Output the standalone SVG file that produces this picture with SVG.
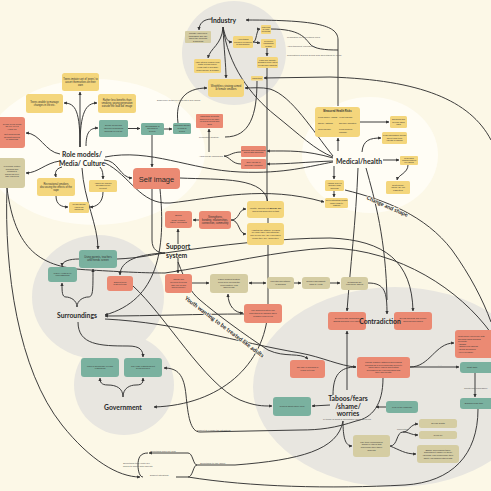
<svg xmlns="http://www.w3.org/2000/svg" width="491" height="491" viewBox="0 0 491 491">
<defs>
<marker id="a" viewBox="0 0 10 10" refX="9" refY="5" markerWidth="3.4" markerHeight="3.4" orient="auto-start-reverse"><path d="M0,0 L10,5 L0,10 z" fill="#333"/></marker>
</defs>
<style>
.e{fill:none;stroke:#333;stroke-width:0.95}
.ea{marker-end:url(#a)}
.eb{marker-start:url(#a);marker-end:url(#a)}
.y{fill:#f4d67c}
.r{fill:#eb8a73}
.g{fill:#7ab19f}
.o{fill:#d5cda3}
.t{font-family:"Liberation Sans",Arial,sans-serif;font-size:2.6px;fill:#333;text-anchor:middle}
.t2{font-family:"Liberation Sans",Arial,sans-serif;font-size:2.2px;fill:#333;text-anchor:middle}
.s{font-family:"Liberation Sans",Arial,sans-serif;font-size:2.4px;fill:#555}
.L{font-family:Lato,"Liberation Sans",sans-serif;font-weight:bold;font-size:6.8px;fill:#2a2a2a;text-anchor:middle}
.R{font-family:Lato,"Liberation Sans",sans-serif;font-weight:bold;fill:#2a2a2a;text-anchor:middle;paint-order:stroke;stroke:#fcf8ea;stroke-width:1.4px}
</style>
<g id="background">
<rect width="491" height="491" fill="#fcf8e7"/>
<ellipse cx="95" cy="152" rx="110" ry="73" fill="#fffdf5"/>
<ellipse cx="370" cy="155" rx="68" ry="58" fill="#fffdf5"/>
<circle cx="234" cy="53" r="52" fill="#e8e6e0"/>
<ellipse cx="98" cy="297" rx="66" ry="62" fill="#e8e6e0"/>
<circle cx="124" cy="385" r="50" fill="#e8e6e0"/>
<ellipse cx="395" cy="387" rx="142" ry="100" fill="#e8e6e0"/>
</g>
<g id="connectors">
<path class="e ea" d="M80,147 L80,92"/>
<path class="e ea" d="M80,147 C80,112 76,103 64,103"/>
<path class="e ea" d="M80,147 C80,112 86,103 97,103"/>
<path class="e ea" d="M60,154 C45,152 40,133 26,133"/>
<path class="e ea" d="M86,146 C86,132 90,128 98,128"/>
<path class="e ea" d="M128,128.5 L140,128.5"/>
<path class="e ea" d="M164,129 L172,129"/>
<path class="e ea" d="M152,135 L152,167"/>
<path class="e ea" d="M60,161 C45,163 38,173 26,173"/>
<path class="e ea" d="M104,160 C118,160 120,178 132,178"/>
<path class="e ea" d="M82,168 C84,200 98,225 98,249"/>
<path class="e ea" d="M62,167 C55,169 55,173 56,177"/>
<path class="e ea" d="M100,167 C103,170 103,175 103,179"/>
<path class="e ea" d="M56,196 C56,205 62,207 68,207"/>
<path class="e ea" d="M103,192 C103,203 96,207 90,207"/>
<path class="e ea" d="M178,123 C175,100 185,88 207,88"/>
<path class="e ea" d="M105,163 C130,175 140,205 170,203 C215,198 265,185 324,202"/>
<path class="e" d="M105,157 C150,148 190,170 240,172 C285,174 310,166 333,162"/>
<path class="e ea" d="M212,19 C203,19 199,24 199,30"/>
<path class="e ea" d="M223,27 C226,40 228,42 232,42"/>
<path class="e ea" d="M223,27 C222,45 210,48 208,58"/>
<path class="e ea" d="M223,27 C224,50 226,65 226,78"/>
<path class="e" d="M223,27 C228,65 250,95 275,115 C300,135 315,150 333,157"/>
<path class="e ea" d="M253,42 C257,42 256,29 260,29"/>
<path class="e ea" d="M253,42 L260,43"/>
<path class="e ea" d="M267,48 L267,56"/>
<path class="e" d="M267,68 L267,205"/>
<path class="e ea" d="M491,140 C470,100 420,80 330,77 L264,78"/>
<path class="e ea" d="M338,106 L338,40 C338,26 320,20 246,20"/>
<path class="e" d="M271,29 C300,29 305,38 310,44 C314,49 325,50 338,50"/>
<path class="e ea" d="M333,156 C312,130 292,96 270,89 C262,87 252,88 245,88"/>
<path class="e" d="M257,81 C257,115 250,137 225,137"/>
<path class="e" d="M241,152 C232,152 230,156 224,156"/>
<path class="e" d="M241,164 C232,164 230,157 224,156"/>
<path class="e ea" d="M209,152 L209,129"/>
<path class="e ea" d="M333,158 C305,150 290,151 267,151"/>
<path class="e ea" d="M333,161 C305,162 290,164 267,164"/>
<path class="e ea" d="M360,122 L389,122"/>
<path class="e ea" d="M362,152 C363,140 370,138 381,138"/>
<path class="e ea" d="M338,151 L338,138"/>
<path class="e ea" d="M383,160 L399,160"/>
<path class="e ea" d="M408,165 C408,173 398,175 397,180"/>
<path class="e ea" d="M334,166 L334,179"/>
<path class="e ea" d="M334,191 L334,197"/>
<path class="e" d="M345,190 C385,200 425,215 452,250 C470,275 483,300 491,322"/>
<path class="e ea" d="M358,168 C356,220 350,270 347,311"/>
<path class="e" d="M366,168 C375,200 386,240 387,300"/>
<path class="e ea" d="M368,283 C385,283 387,292 387,314"/>
<path class="e ea" d="M117,259 C140,258 150,255 165,253 C220,245 280,238 330,238 C385,240 412,262 413,311"/>
<path class="e" d="M7,188 C15,250 40,268 90,270 C125,272 145,273 165,273 C220,265 280,250 330,248 C400,250 460,290 491,333"/>
<path class="e ea" d="M7,188 C4,270 18,370 62,425 C90,460 118,477 140,477"/>
<path class="e" d="M152,189 L152,240 C152,250 158,253 165,253"/>
<path class="e ea" d="M165,253 C140,254 120,260 120,275"/>
<path class="e ea" d="M180,178 C220,180 268,176 268,205 L268,310 C265,365 220,405 154,407"/>
<path class="e ea" d="M160,189 C166,250 158,300 105,315"/>
<path class="e ea" d="M244,314 C200,314 150,316 105,316"/>
<path class="e ea" d="M77,307 C77,300 70,297 66,297 C62,297 62,292 62,283"/>
<path class="e ea" d="M77,307 C77,300 84,297 88,297 C93,297 93,292 93,269"/>
<path class="e ea" d="M79,259 C70,259 62,261 62,266"/>
<path class="e ea" d="M78,322 C78,345 100,346 128,346 C140,346 143,350 143,357"/>
<path class="e ea" d="M123,397 C123,388 116,385 108,385 C101,385 100,382 100,378"/>
<path class="e ea" d="M123,397 C123,388 130,385 136,385 C143,385 143,382 143,378"/>
<path class="e ea" d="M178,244 L178,229"/>
<path class="e ea" d="M178,258 L178,273"/>
<path class="e ea" d="M199,220 L193,220"/>
<path class="e ea" d="M231,220 C240,220 238,209 246,209"/>
<path class="e ea" d="M231,220 C240,220 238,234 246,234"/>
<path class="e ea" d="M192,283 L209,283"/>
<path class="e eb" d="M249,283 L266,283"/>
<path class="e ea" d="M294,283 L301,283"/>
<path class="e ea" d="M330,283 L340,283"/>
<path class="e eb" d="M228,294 C228,306 235,313 243,313"/>
<path class="e ea" d="M178,262 C185,280 190,292 200,300 C215,313 245,335 268,350 C285,358 300,352 308,359"/>
<path class="e ea" d="M133,286 C165,315 205,385 240,400 C255,406 262,406 272,406"/>
<path class="e ea" d="M105,319 C180,323 235,342 300,353 C322,357 340,366 356,367"/>
<path class="e" d="M333,395 C333,375 340,367 356,367"/>
<path class="e ea" d="M347,390 L347,331"/>
<path class="e ea" d="M410,367 C430,367 435,343 454,343"/>
<path class="e ea" d="M410,367 L459,367"/>
<path class="e ea" d="M475,373 L475,397"/>
<path class="e ea" d="M386,407 L376,407"/>
<path class="e ea" d="M343,421 C343,437 345,446 352,446"/>
<path class="e ea" d="M390,446 C398,446 396,432 403,432 C409,432 410,424 418,424"/>
<path class="e ea" d="M403,432 C409,432 411,435 418,435"/>
<path class="e ea" d="M390,446 C400,450 405,454 416,454"/>
<path class="e ea" d="M383,378 C383,405 372,418 356,421 C335,428 320,430 300,430 L200,432 C190,432 188,415 186,395 C184,375 178,368 164,368"/>
<path class="e ea" d="M330,405 L312,406"/>
<path class="e" d="M343,421 C338,450 300,460 235,465 L197,465"/>
<path class="e ea" d="M197,465 C193,465 193,453 188,453 L149,453"/>
<path class="e" d="M197,465 C193,465 193,477 188,477 L176,477"/>
<path class="e" d="M478,409 C478,455 452,482 405,485 C330,489 250,487 188,477"/>
<path class="e" d="M148,453 C140,453 138,458 138,465 C138,472 140,477 143,477"/>
</g>
<g id="n-y1"><rect class="y" x="62" y="73" width="37" height="18" rx="2.5"/><text class="t" y="79.8"><tspan x="80.5">Teens imitate sort of 'peers' to</tspan><tspan x="80.5" dy="3">assert themselves on their</tspan><tspan x="80.5" dy="3">own</tspan></text></g>
<g id="n-y2"><rect class="y" x="26" y="94" width="37" height="19" rx="2.5"/><text class="t" y="102.8"><tspan x="44.5">Teens unable to manage</tspan><tspan x="44.5" dy="3">changes in life etc.</tspan></text></g>
<g id="n-y3"><rect class="y" x="98" y="94" width="38" height="19" rx="2.5"/><text class="t" y="101.3"><tspan x="117">Rather less benefits than</tspan><tspan x="117" dy="3">smoking, young generation</tspan><tspan x="117" dy="3">outside the 'bad kid' image</tspan></text></g>
<g id="n-r1"><rect class="r" x="-6" y="117" width="31" height="31" rx="3"/><text class="t2" y="124.5"><tspan x="12">Teens' peers doing</tspan><tspan x="12" dy="2.6">as role of 1-3</tspan><tspan x="12" dy="2.6">years old</tspan><tspan x="12" dy="5.2">Not much giving</tspan><tspan x="12" dy="2.6">as adult sources</tspan><tspan x="12" dy="2.6">or marketing</tspan></text></g>
<g id="n-g1"><rect class="g" x="99" y="120" width="29" height="17" rx="1.5"/><text class="t2" y="126.3"><tspan x="113.5">Social media and</tspan><tspan x="113.5" dy="2.6">influencers showing</tspan><tspan x="113.5" dy="2.6">smoking in real life</tspan></text></g>
<g id="n-g2"><rect class="g" x="141" y="123" width="23" height="12" rx="1.5"/><text class="t2" y="126.6"><tspan x="152.5">Normalising of</tspan><tspan x="152.5" dy="2.6">smoking in</tspan><tspan x="152.5" dy="2.6">society</tspan></text></g>
<g id="n-g3"><rect class="g" x="173" y="123" width="18" height="11" rx="1.5"/><text class="t2" y="126.3"><tspan x="182">Smoking shown</tspan><tspan x="182" dy="2.6">in films &amp;</tspan><tspan x="182" dy="2.6">series</tspan></text></g>
<g id="n-o1"><rect class="o" x="-6" y="158" width="31" height="30" rx="3"/><text class="t2" y="167"><tspan x="12">In popular culture</tspan><tspan x="12" dy="2.6">smoking and</tspan><tspan x="12" dy="2.6">drinking is</tspan><tspan x="12" dy="2.6">shown as cool</tspan><tspan x="12" dy="2.6">and rebellious</tspan></text></g>
<g id="n-y4"><rect class="y" x="37" y="178" width="38" height="18" rx="2.5"/><text class="t" y="184.8"><tspan x="56">Recreational smokers</tspan><tspan x="56" dy="3">discussing the effects of the</tspan><tspan x="56" dy="3">vape</tspan></text></g>
<g id="n-y5"><rect class="y" x="89" y="180" width="28" height="12" rx="1.5"/><text class="t2" y="183.6"><tspan x="103">Vapes are shown</tspan><tspan x="103" dy="2.6">as fashion/cool</tspan><tspan x="103" dy="2.6">product</tspan></text></g>
<g id="n-y6"><rect class="y" x="69" y="202" width="20" height="11" rx="1.5"/><text class="t2" y="205.1"><tspan x="79">Media shows</tspan><tspan x="79" dy="2.6">vapes as</tspan><tspan x="79" dy="2.6">harmless</tspan></text></g>
<g id="n-self"><rect class="r" x="133" y="168" width="47" height="21" rx="4"/><text x="156.5" y="181.5" font-family="Liberation Sans, Arial, sans-serif" font-size="7.5" fill="#2a2a2a" text-anchor="middle">Self image</text></g>
<g id="n-o2"><rect class="o" x="185" y="31" width="26" height="12" rx="1"/><text class="t2" y="34.1"><tspan x="198">Industry influences</tspan><tspan x="198" dy="2.6">packaging and info</tspan><tspan x="198" dy="2.6">about the products</tspan><tspan x="198" dy="2.6">&amp; smoking</tspan></text></g>
<g id="n-y7"><rect class="y" x="233" y="36" width="20" height="12" rx="1.5"/><text class="t2" y="40.1"><tspan x="243">Advertising</tspan><tspan x="243" dy="2.6">focused on flavour</tspan><tspan x="243" dy="2.6">&amp; appearance</tspan></text></g>
<g id="n-y8"><rect class="y" x="261" y="25" width="10" height="9" rx="1"/><text class="t2" y="27.6" font-size="1.9"><tspan x="266">Flavours</tspan><tspan x="266" dy="2.4">of vape</tspan><tspan x="266" dy="2.4">products</tspan></text></g>
<g id="n-y9"><rect class="y" x="261" y="39" width="15" height="9" rx="1"/><text class="t2" y="41.6"><tspan x="268.5">Colourful</tspan><tspan x="268.5" dy="2.6">packaging</tspan><tspan x="268.5" dy="2.6">design</tspan></text></g>
<g id="n-y10"><rect class="y" x="194" y="59" width="27" height="14" rx="1.5"/><text class="t2" y="62.8"><tspan x="207.5">Vape stores located near</tspan><tspan x="207.5" dy="2.6">parts of town where</tspan><tspan x="207.5" dy="2.6">youth visit or socialise</tspan><tspan x="207.5" dy="2.6">(convenience &amp; design)</tspan></text></g>
<g id="n-y11"><rect class="y" x="257" y="57" width="21" height="11" rx="1.5"/><text class="t2" y="60.6"><tspan x="267.5">Lobbying industry</tspan><tspan x="267.5" dy="2.6">arranges price rates</tspan><tspan x="267.5" dy="2.6">for specific markets</tspan></text></g>
<g id="n-y12"><rect class="y" x="251" y="76" width="12" height="4.5" rx="0.8"/><text class="t2" x="257" y="79">Marketing</text></g>
<g id="n-weightless"><rect class="y" x="208" y="79" width="36" height="18" rx="3"/><text class="t" y="87.3"><tspan x="226">Weightless strategy aimed</tspan><tspan x="226" dy="3">at female smokers</tspan></text></g>
<g id="n-r2"><rect class="r" x="196" y="114" width="27" height="14" rx="1"/><text class="t2" y="117.1"><tspan x="209.5">Marketing products</tspan><tspan x="209.5" dy="2.6">approved to be safe</tspan><tspan x="209.5" dy="2.6">on social media and</tspan><tspan x="209.5" dy="2.6">apps</tspan></text></g>
<g id="n-r3"><rect class="r" x="241" y="146" width="25" height="11" rx="1"/><text class="t2" y="150.7"><tspan x="253.5">Smoking kills campaigns</tspan><tspan x="253.5" dy="2.6">and health warnings</tspan></text></g>
<g id="n-r4"><rect class="r" x="241" y="159" width="25" height="10" rx="1"/><text class="t2" y="163.2"><tspan x="253.5">Side effects of</tspan><tspan x="253.5" dy="2.6">smoking explained</tspan></text></g>
<g id="n-mh"><rect class="y" x="315" y="107" width="45" height="30" rx="3"/><text class="t" x="337.5" y="112" font-weight="bold">Measured Health Risks</text><text class="t2" style="text-anchor:start"><tspan x="318" y="118">Lung cancer, COPD</tspan><tspan x="318" y="124">Stroke, asthma</tspan><tspan x="318" y="130">Gum disease</tspan><tspan x="339" y="118">Heart disease</tspan><tspan x="339" y="124">Nicotine addiction</tspan><tspan x="339" y="130">Lung function</tspan><tspan x="339" y="132.6">damage</tspan></text></g>
<g id="n-y14"><rect class="y" x="390" y="116" width="17" height="12" rx="1.5"/><text class="t2" y="120.1"><tspan x="398.5">Smoking and</tspan><tspan x="398.5" dy="2.6">second hand</tspan><tspan x="398.5" dy="2.6">risks</tspan></text></g>
<g id="n-y15"><rect class="y" x="382" y="132" width="25" height="12" rx="1.5"/><text class="t2" y="136.1"><tspan x="394.5">Less information known</tspan><tspan x="394.5" dy="2.6">about long-term</tspan><tspan x="394.5" dy="2.6">effects of vaping</tspan></text></g>
<g id="n-y16"><rect class="y" x="400" y="156" width="18" height="9" rx="1"/><text class="t2" y="158.6" font-size="1.9"><tspan x="409">Research</tspan><tspan x="409" dy="2.4">misinformation</tspan><tspan x="409" dy="2.4">on vaping</tspan></text></g>
<g id="n-y17"><rect class="y" x="386" y="181" width="24" height="13" rx="1.5"/><text class="t2" y="185.6"><tspan x="398">Doctors say</tspan><tspan x="398" dy="2.6">'Those are not</tspan><tspan x="398" dy="2.6">cigarettes'</tspan></text></g>
<g id="n-y18"><rect class="y" x="325" y="180" width="19" height="11" rx="1.5"/><text class="t2" y="183.6"><tspan x="334.5">Vaping is seen</tspan><tspan x="334.5" dy="2.6">as safer than</tspan><tspan x="334.5" dy="2.6">smoking</tspan></text></g>
<g id="n-y19"><rect class="y" x="325" y="198" width="23" height="10" rx="1.5"/><text class="t2" y="201.1"><tspan x="336.5">Overestimating health</tspan><tspan x="336.5" dy="2.6">risks leads to</tspan><tspan x="336.5" dy="2.6">distrust</tspan></text></g>
<g id="n-r5"><rect class="r" x="165" y="211" width="27" height="17" rx="3"/><text class="t2" y="215.5"><tspan x="178.5">Bullies</tspan><tspan x="178.5" dy="5.2">Trust, comfort,</tspan><tspan x="178.5" dy="2.6">safety, belonging</tspan></text></g>
<g id="n-r6"><rect class="r" x="199" y="211" width="32" height="18" rx="3"/><text class="t" y="217.8"><tspan x="215">Strengthens</tspan><tspan x="215" dy="3">bonding, relationships,</tspan><tspan x="215" dy="3">connection, community</tspan></text></g>
<g id="n-y20"><rect class="y" x="247" y="201" width="37" height="17" rx="3"/><text class="t2" y="208.9"><tspan x="265.5">Identity, figuring out <tspan font-weight="bold">who we are</tspan></tspan><tspan x="265.5" dy="2.6">and being supported in that</tspan></text></g>
<g id="n-y21"><rect class="y" x="247" y="223" width="37" height="22" rx="3"/><text class="t2" y="230.8"><tspan x="265.5">Adapting the attitude of caring</tspan><tspan x="265.5" dy="2.6">for each other, accepting the</tspan><tspan x="265.5" dy="2.6">way people are, the expression</tspan><tspan x="265.5" dy="2.6">of who they are, 'supportive'</tspan></text></g>
<g id="n-r7"><rect class="r" x="165" y="274" width="27" height="19" rx="3"/><text class="t2" y="280.3"><tspan x="178.5">Caring and</tspan><tspan x="178.5" dy="2.6">freedom to being</tspan><tspan x="178.5" dy="2.6">who one is and</tspan><tspan x="178.5" dy="2.6">independence</tspan></text></g>
<g id="n-o3"><rect class="o" x="210" y="274" width="38" height="19" rx="3"/><text class="t2" y="280.3"><tspan x="229">Family support system</tspan><tspan x="229" dy="2.6">could help opening the</tspan><tspan x="229" dy="2.6">conversation, less</tspan><tspan x="229" dy="2.6">taboo/fears</tspan></text></g>
<g id="n-o4"><rect class="o" x="267" y="277" width="27" height="12" rx="3"/><text class="t2" y="282.2"><tspan x="280.5">Parental acceptance</tspan><tspan x="280.5" dy="2.6">of smoking</tspan></text></g>
<g id="n-o5"><rect class="o" x="302" y="277" width="28" height="12" rx="3"/><text class="t2" y="282.2"><tspan x="316">Giving responsibility</tspan><tspan x="316" dy="2.6">back to youth</tspan></text></g>
<g id="n-o6"><rect class="o" x="341" y="277" width="27" height="13" rx="3"/><text class="t2" y="282.7"><tspan x="354.5">Rethinking the</tspan><tspan x="354.5" dy="2.6">'rebellious' aspect</tspan></text></g>
<g id="n-r8"><rect class="r" x="244" y="304" width="38" height="19" rx="3"/><text class="t2" y="311.4"><tspan x="263">The support system can</tspan><tspan x="263" dy="2.6">sometimes be harmful when</tspan><tspan x="263" dy="2.6">pressure from peers</tspan></text></g>
<g id="n-g4"><rect class="g" x="79" y="250" width="38" height="18" rx="3"/><text class="t" y="258.3"><tspan x="98">Using parents, teachers</tspan><tspan x="98" dy="3">and friends screen</tspan></text></g>
<g id="n-g5"><rect class="g" x="48" y="267" width="29" height="15" rx="3"/><text class="t2" y="273.7"><tspan x="62.5">Where youth go to</tspan><tspan x="62.5" dy="2.6">understanding</tspan></text></g>
<g id="n-r9"><rect class="r" x="107" y="276" width="26" height="15" rx="3"/><text class="t2" y="282.7"><tspan x="120">Support from</tspan><tspan x="120" dy="2.6">system teens</tspan></text></g>
<g id="n-g6"><rect class="g" x="81" y="358" width="38" height="19" rx="3"/><text class="t2" y="366.7"><tspan x="100">Lack of knowledge of legal</tspan><tspan x="100" dy="2.6">restrictions</tspan></text></g>
<g id="n-g7"><rect class="g" x="124" y="358" width="38" height="19" rx="3"/><text class="t2" y="366.7"><tspan x="143">The legal restrictions not</tspan><tspan x="143" dy="2.6">being followed</tspan></text></g>
<g id="n-r10"><rect class="r" x="328" y="312" width="38" height="18" rx="3"/><text class="t2" y="319"><tspan x="347">Seeing health campaigns</tspan><tspan x="347" dy="2.6">against smoking everywhere</tspan></text></g>
<g id="n-r11"><rect class="r" x="394" y="312" width="38" height="18" rx="3"/><text class="t2" y="319"><tspan x="413">Seeing smoking and people</tspan><tspan x="413" dy="2.6">smoking and parties</tspan></text></g>
<g id="n-r12"><rect class="r" x="357" y="357" width="53" height="21" rx="3"/><text class="t2" y="363"><tspan x="383.5">Facing negative attitudes surrounding</tspan><tspan x="383.5" dy="2.6">smoking as a developmental period to</tspan><tspan x="383.5" dy="2.6">show where values and testing</tspan><tspan x="383.5" dy="2.6">boundaries are experimenting with</tspan><tspan x="383.5" dy="2.6">their own identity</tspan></text></g>
<g id="n-r13"><rect class="r" x="290" y="360" width="35" height="18" rx="3"/><text class="t2" y="368.2"><tspan x="307.5">The age of smoking in</tspan><tspan x="307.5" dy="2.6">terms of teens</tspan></text></g>
<g id="n-r14"><rect class="r" x="455" y="330" width="40" height="28" rx="3"/><text class="t2" y="336.9" style="text-anchor:start"><tspan x="458">Most users experience with</tspan><tspan x="458" dy="2.6">smoking using smoking</tspan><tspan x="458" dy="2.6">products:</tspan><tspan x="458" dy="2.6">- Shisha</tspan><tspan x="458" dy="2.6">- Sharpen Dynamics</tspan><tspan x="458" dy="2.6">- Social Dynamics</tspan><tspan x="458" dy="2.6">- Peer Pressure</tspan></text></g>
<g id="n-g8"><rect class="g" x="460" y="362" width="35" height="11" rx="3"/><text class="t2" x="472" y="368.3">'Craft' taste</text></g>
<g id="n-g9"><rect class="g" x="460" y="398" width="35" height="11" rx="3"/><text class="t2" x="474" y="404.3">Bridging down time</text></g>
<g id="n-g10"><rect class="g" x="273" y="397" width="38" height="19" rx="3"/><text class="t2" x="292" y="407.3">Worries about future lives</text></g>
<g id="n-g11"><rect class="g" x="386" y="401" width="32" height="12" rx="3"/><text class="t2" x="402" y="407.8">Fear of the unknown</text></g>
<g id="n-o7"><rect class="o" x="419" y="419" width="38" height="9" rx="2.5"/><text class="t2" x="438" y="424.3">Sexual health</text></g>
<g id="n-o8"><rect class="o" x="419" y="431" width="38" height="8" rx="2.5"/><text class="t2" x="438" y="435.8">Covid-19</text></g>
<g id="n-o9"><rect class="o" x="353" y="435" width="37" height="22" rx="3"/><text class="t2" y="442.8"><tspan x="371.5">The topic of smoking is</tspan><tspan x="371.5" dy="2.6">similar to others that</tspan><tspan x="371.5" dy="2.6">surrounds other taboo</tspan><tspan x="371.5" dy="2.6">subjects</tspan></text></g>
<g id="n-o10"><rect class="o" x="417" y="445" width="42" height="18" rx="3"/><text class="t2" y="450.8"><tspan x="438">Shame surrounding taboo</tspan><tspan x="438" dy="2.6">subjects/not eligible for these</tspan><tspan x="438" dy="2.6">offerings, can compromise their</tspan><tspan x="438" dy="2.6">safety, physical/mental health</tspan></text></g>
<g id="edge-labels">
<text class="s" x="157" y="100.5">Difference between cigarettes and vapes</text>
<text class="s" x="199" y="138">Promotion strategy</text>
<text class="s" x="199" y="156.8">Awareness campaigns</text>
<text class="s" x="287" y="38">Legislation on advertising rules</text>
<text class="s" x="287" y="47">Advertisement regulations</text>
<text class="s" x="287" y="56">Regulations around selling and advertising to youth</text>
<text class="s" x="464" y="389" font-size="2">Continuing discussion</text>
<text class="s" x="438" y="366">- - -</text>
<text class="s" x="397" y="429.5">connection</text>
<text class="s" x="347" y="420.3" text-anchor="middle" font-size="2">in terms of what is acceptable amongst peers</text>
<text class="s" x="197" y="431.3">Difficult to explain the situations</text>
<text class="s" x="200" y="464.3">Something to talk about</text>
<text class="s" x="150" y="452.3">Something said out loud</text>
<text class="s" x="150" y="476.3">Difficult situations</text>
<text class="s" x="123" y="463.8" font-size="2">Something that youth are</text>
<text class="s" x="123" y="466.6" font-size="2">willing to share with parents</text>
</g>
<g id="labels">
<text class="L" x="223.5" y="22.5">Industry</text>
<text class="L" x="82" y="156.5">Role models/</text>
<text class="L" x="82" y="165.5">Media/ Culture</text>
<text class="L" x="359" y="163.5">Medical/health</text>
<text class="L" x="166" y="249" style="text-anchor:start">Support</text>
<text class="L" x="166" y="257.5" style="text-anchor:start">system</text>
<text class="L" x="77" y="318">Surroundings</text>
<text class="L" x="123" y="410">Government</text>
<text class="L" x="380" y="324">Contradiction</text>
<text class="L" x="348" y="401">Taboos/fears</text>
<text class="L" x="348" y="408.5">/shame/</text>
<text class="L" x="348" y="416">worries</text>
<text class="R" font-size="5.5" transform="translate(386.5,208) rotate(24)">Change and shape</text>
<text class="R" font-size="5.7" transform="translate(223.3,328.5) rotate(37)">Youth wanting to be treated like adults</text>
</g>
</svg>
